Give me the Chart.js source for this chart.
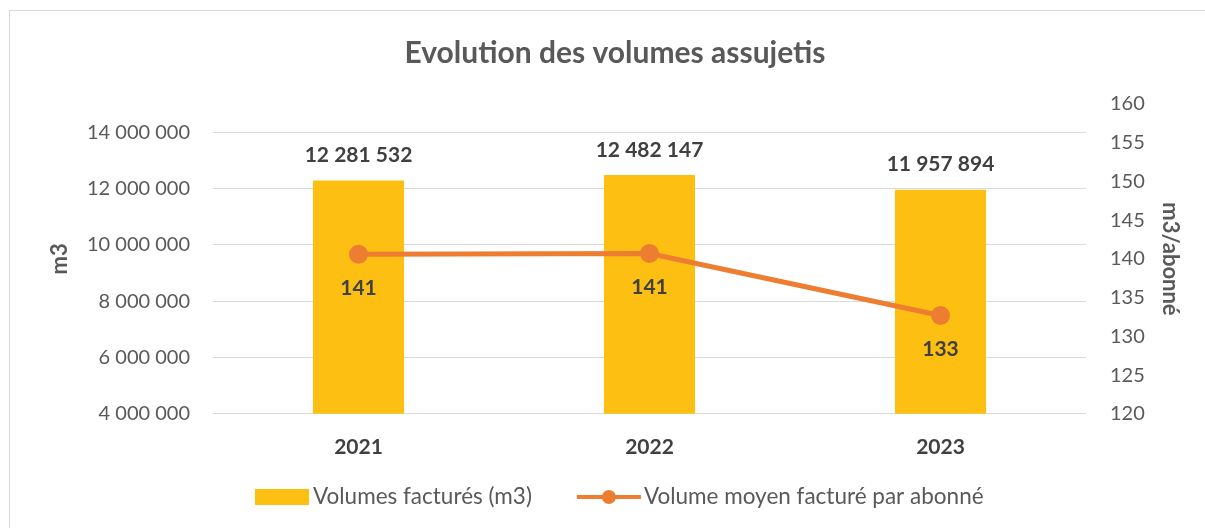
<!DOCTYPE html>
<html>
<head>
<meta charset="utf-8">
<script src="https://cdn.jsdelivr.net/npm/chart.js@4/dist/chart.umd.min.js"></script>
<style>
  html, body { margin: 0; padding: 0; background: #fff; }
  #frame { position: absolute; left: 9px; top: 10px; width: 1196px; height: 518px;
           border-left: 1px solid #d9d9d9; border-top: 1px solid #d9d9d9; }
  #wrap { position: absolute; left: 0; top: 0; width: 1205px; height: 528px; }
</style>
</head>
<body>
<div id="frame"></div>
<div id="wrap"><canvas id="c" width="1205" height="528"></canvas></div>
<script>
const years = ['2021', '2022', '2023']
const volumes = [12281532, 12482147, 11957894]          // m3
const avgPerSubscriber = [140.6, 140.7, 132.7]           // m3/abonné
const leftTickValues = [4000000, 6000000, 8000000, 10000000, 12000000, 14000000]
const leftRange = [4000000, 15000000]
const rightRange = [120, 160]
const rightStep = 5

const YELLOW = '#FCBF12'
const ORANGE = '#ED7D31'
const GREY = '#595959'
const DARK = '#404040'
const FONT = 'Lato'

const fmt = n => String(Math.round(n)).replace(/\B(?=(\d{3})+(?!\d))/g, ' ')

// value labels above the bars and under the points
const valueLabels = {
  id: 'valueLabels',
  afterDatasetsDraw(chart) {
    const ctx = chart.ctx
    ctx.save()
    ctx.fillStyle = DARK
    ctx.textAlign = 'center'
    ctx.textBaseline = 'middle'
    ctx.font = `bold 21px ${FONT}`
    chart.getDatasetMeta(0).data.forEach((bar, i) => {
      ctx.fillText(fmt(volumes[i]), bar.x, bar.y - 25)
    })
    chart.getDatasetMeta(1).data.forEach((pt, i) => {
      ctx.fillText(String(Math.round(avgPerSubscriber[i])), pt.x, pt.y + 34)
    })
    ctx.restore()
  }
}

// legend drawn by hand (box for bars, line+dot for the line)
const bottomLegend = {
  id: 'bottomLegend',
  afterDraw(chart) {
    const ctx = chart.ctx
    const y = 497
    ctx.save()
    ctx.font = `22.5px ${FONT}`
    ctx.textBaseline = 'middle'
    let x = 255
    ctx.fillStyle = YELLOW
    ctx.fillRect(x, y - 8, 54, 16)
    ctx.fillStyle = GREY
    x += 58
    ctx.fillText(chart.data.datasets[0].label, x, y)
    x += ctx.measureText(chart.data.datasets[0].label).width + 45
    ctx.strokeStyle = ORANGE
    ctx.lineWidth = 4
    ctx.beginPath(); ctx.moveTo(x, y); ctx.lineTo(x + 64, y); ctx.stroke()
    ctx.fillStyle = ORANGE
    ctx.beginPath(); ctx.arc(x + 32, y, 7, 0, Math.PI * 2); ctx.fill()
    ctx.fillStyle = GREY
    ctx.fillText(chart.data.datasets[1].label, x + 67, y)
    ctx.restore()
  }
}

new Chart(document.getElementById('c'), {
  type: 'bar',
  data: {
    labels: years,
    datasets: [
      {
        type: 'bar',
        label: 'Volumes facturés (m3)',
        data: volumes,
        backgroundColor: YELLOW,
        yAxisID: 'y',
        order: 1,
        categoryPercentage: 1,
        barPercentage: 0.313
      },
      {
        type: 'line',
        label: 'Volume moyen facturé par abonné',
        data: avgPerSubscriber,
        borderColor: ORANGE,
        backgroundColor: ORANGE,
        borderWidth: 5,
        pointRadius: 7,
        pointHoverRadius: 7,
        yAxisID: 'y1',
        order: 0,
        tension: 0
      }
    ]
  },
  options: {
    responsive: false,
    animation: false,
    layout: { padding: { left: 47, right: 22, top: 0, bottom: 55 } },
    plugins: {
      legend: { display: false },
      tooltip: { enabled: false },
      title: {
        display: true,
        text: 'Evolution des volumes assujetis',
        color: GREY,
        font: { family: FONT, size: 30, weight: 'bold' },
        padding: { top: 35, bottom: 33 }
      }
    },
    scales: {
      x: {
        grid: { display: false },
        border: { display: false },
        ticks: { color: DARK, padding: 13, font: { family: FONT, size: 21, weight: 'bold' } }
      },
      y: {
        position: 'left',
        min: leftRange[0],
        max: leftRange[1],
        afterFit(scale) { scale.width = 166 },
        afterBuildTicks(scale) { scale.ticks = leftTickValues.map(v => ({ value: v })) },
        grid: { color: '#d9d9d9', lineWidth: 1, drawTicks: false },
        border: { display: false },
        ticks: {
          padding: 23,
          color: GREY,
          font: { family: FONT, size: 20 },
          callback: v => fmt(v)
        },
        title: {
          display: true, text: 'm3', color: GREY, padding: 0,
          font: { family: FONT, size: 22, weight: 'bold' }
        }
      },
      y1: {
        position: 'right',
        min: rightRange[0],
        max: rightRange[1],
        afterFit(scale) { scale.width = 97 },
        grid: { display: false, drawTicks: false },
        border: { display: false },
        ticks: { stepSize: rightStep, padding: 24, color: GREY, font: { family: FONT, size: 20 } },
        title: {
          display: true, text: 'm3/abonné', color: GREY, padding: 0,
          font: { family: FONT, size: 22, weight: 'bold' }
        }
      }
    }
  },
  plugins: [valueLabels, bottomLegend]
})
</script>
</body>
</html>
